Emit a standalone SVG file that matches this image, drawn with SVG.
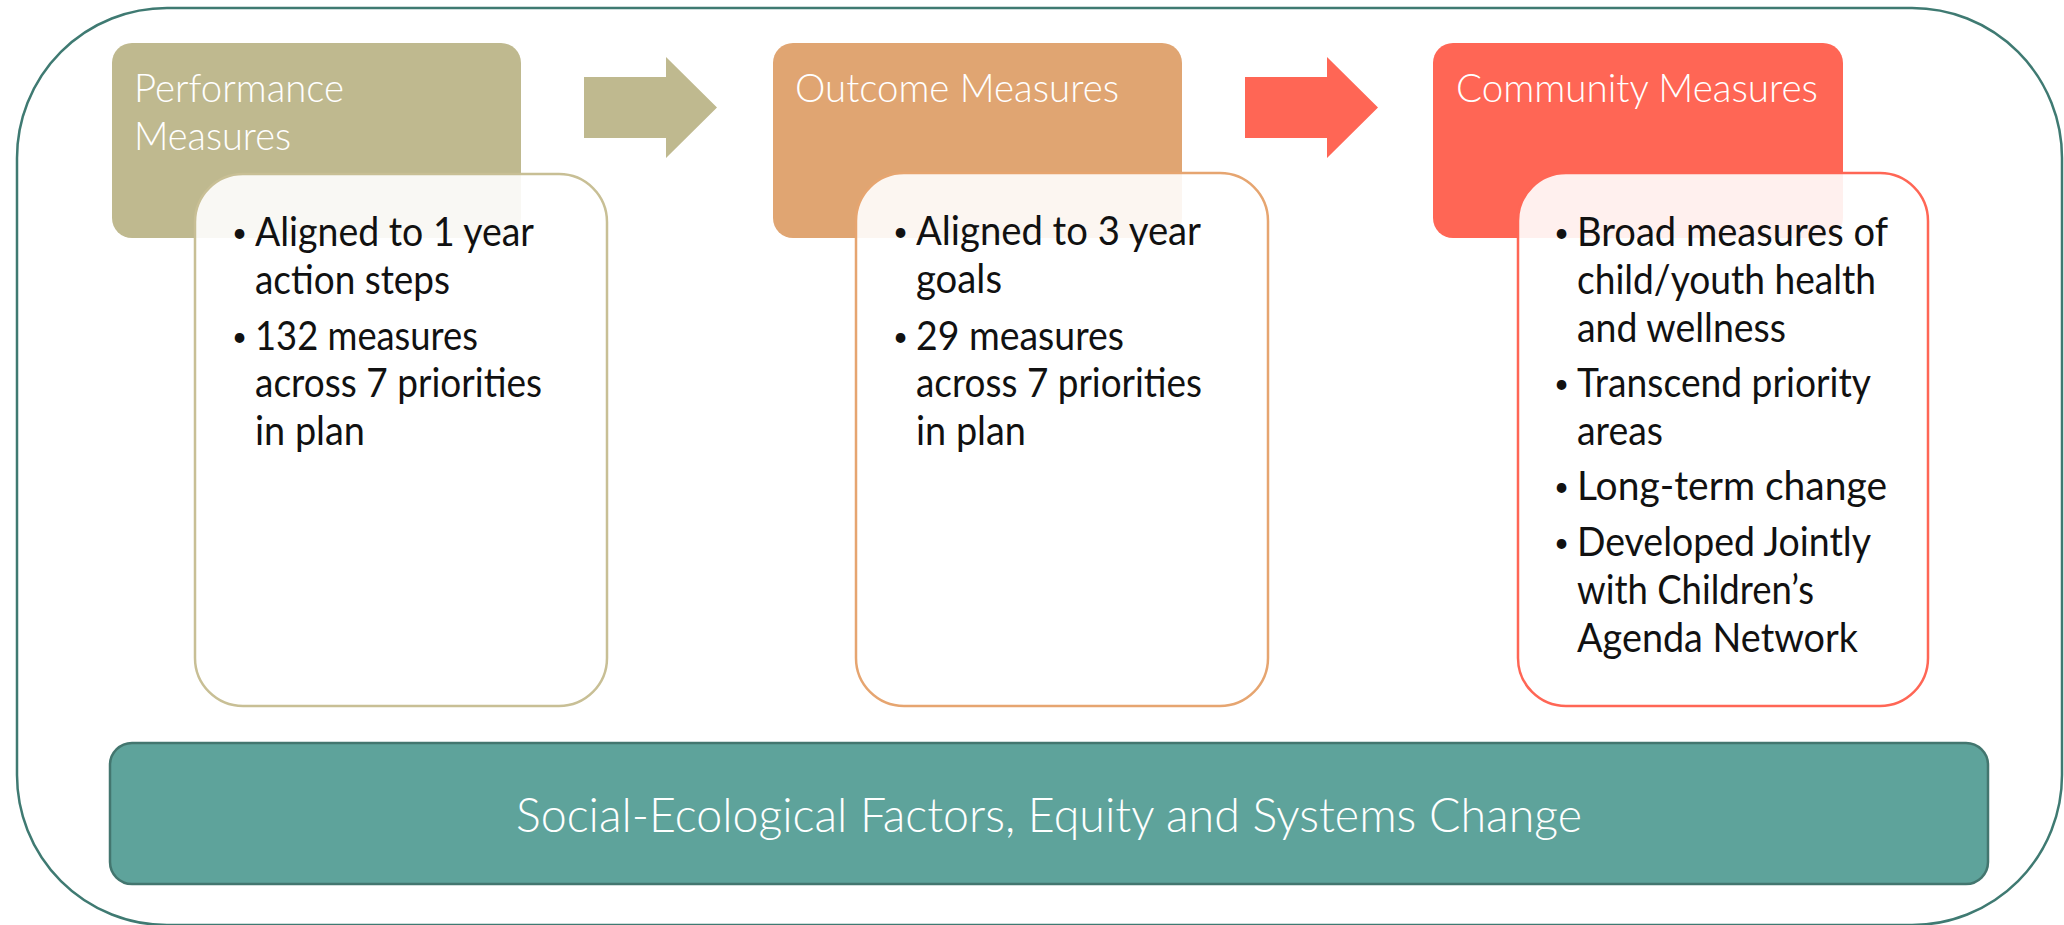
<svg xmlns="http://www.w3.org/2000/svg" width="2064" height="925" viewBox="0 0 2064 925">
<style>
.hdr{font-family:Lato,"Open Sans","Liberation Sans",sans-serif;font-weight:300;font-size:40px;fill:#ffffff}
.bul{font-family:Lato,"Open Sans","Liberation Sans",sans-serif;font-weight:400;font-size:40px;fill:#111111}
.dot{font-family:Lato,"Open Sans","Liberation Sans",sans-serif;font-weight:400;font-size:26px;fill:#111111}
.band{font-family:Lato,"Open Sans","Liberation Sans",sans-serif;font-weight:300;font-size:48px;fill:#ffffff}
.body{fill:#ffffff;fill-opacity:0.9;stroke-width:2.5}
</style>
<rect x="0" y="0" width="2064" height="925" fill="#ffffff"/>
<g id="frame">
<rect x="17" y="8" width="2045" height="917" rx="150" ry="150" fill="none" stroke="#3f7a72" stroke-width="2.5"/>
</g>
<g id="connectors">
<polygon points="584,77 666,77 666,57 717,107.5 666,158 666,138 584,138" fill="#bfb98f"/>
<polygon points="1245,77 1327,77 1327,57 1378,107.5 1327,158 1327,138 1245,138" fill="#ff6655"/>
</g>
<g id="performance">
<rect x="112" y="43" width="409" height="195" rx="20" fill="#bfb98f"/>
<text class="hdr" x="134" y="102" textLength="210" lengthAdjust="spacingAndGlyphs">Performance</text>
<text class="hdr" x="134" y="150" textLength="157" lengthAdjust="spacingAndGlyphs">Measures</text>
<rect class="body" x="195" y="174" width="412" height="532" rx="48" stroke="#c8bf95"/>
<text class="dot" x="232" y="242">•</text>
<text class="bul" x="255" y="246" textLength="279" lengthAdjust="spacingAndGlyphs">Aligned to 1 year</text>
<text class="bul" x="255" y="294" textLength="195" lengthAdjust="spacingAndGlyphs">action steps</text>
<text class="dot" x="232" y="346">•</text>
<text class="bul" x="255" y="350" textLength="223" lengthAdjust="spacingAndGlyphs">132 measures</text>
<text class="bul" x="255" y="397" textLength="287" lengthAdjust="spacingAndGlyphs">across 7 priorities</text>
<text class="bul" x="255" y="445" textLength="110" lengthAdjust="spacingAndGlyphs">in plan</text>
</g>
<g id="outcome">
<rect x="773" y="43" width="409" height="195" rx="20" fill="#e0a572"/>
<text class="hdr" x="795" y="102" textLength="324" lengthAdjust="spacingAndGlyphs">Outcome Measures</text>
<rect class="body" x="856" y="173" width="412" height="533" rx="48" stroke="#e6a570"/>
<text class="dot" x="893" y="241">•</text>
<text class="bul" x="916" y="245" textLength="285" lengthAdjust="spacingAndGlyphs">Aligned to 3 year</text>
<text class="bul" x="916" y="293" textLength="86" lengthAdjust="spacingAndGlyphs">goals</text>
<text class="dot" x="893" y="346">•</text>
<text class="bul" x="916" y="350" textLength="208" lengthAdjust="spacingAndGlyphs">29 measures</text>
<text class="bul" x="916" y="397" textLength="286" lengthAdjust="spacingAndGlyphs">across 7 priorities</text>
<text class="bul" x="916" y="445" textLength="110" lengthAdjust="spacingAndGlyphs">in plan</text>
</g>
<g id="community">
<rect x="1433" y="43" width="410" height="195" rx="20" fill="#ff6655"/>
<text class="hdr" x="1456" y="102" textLength="362" lengthAdjust="spacingAndGlyphs">Community Measures</text>
<rect class="body" x="1518" y="173" width="410" height="533" rx="48" stroke="#ff6655"/>
<text class="dot" x="1554" y="242">•</text>
<text class="bul" x="1577" y="246" textLength="311" lengthAdjust="spacingAndGlyphs">Broad measures of</text>
<text class="bul" x="1577" y="294" textLength="299" lengthAdjust="spacingAndGlyphs">child/youth health</text>
<text class="bul" x="1577" y="342" textLength="209" lengthAdjust="spacingAndGlyphs">and wellness</text>
<text class="dot" x="1554" y="393">•</text>
<text class="bul" x="1577" y="397" textLength="294" lengthAdjust="spacingAndGlyphs">Transcend priority</text>
<text class="bul" x="1577" y="445" textLength="86" lengthAdjust="spacingAndGlyphs">areas</text>
<text class="dot" x="1554" y="496">•</text>
<text class="bul" x="1577" y="500" textLength="310" lengthAdjust="spacingAndGlyphs">Long-term change</text>
<text class="dot" x="1554" y="552">•</text>
<text class="bul" x="1577" y="556" textLength="294" lengthAdjust="spacingAndGlyphs">Developed Jointly</text>
<text class="bul" x="1577" y="604" textLength="237" lengthAdjust="spacingAndGlyphs">with Children’s</text>
<text class="bul" x="1577" y="652" textLength="281" lengthAdjust="spacingAndGlyphs">Agenda Network</text>
</g>
<g id="foundation">
<rect x="110" y="743" width="1878" height="141" rx="22" fill="#5ea39b" stroke="#43766f" stroke-width="2.5"/>
<text class="band" x="1049" y="832" text-anchor="middle" textLength="1066" lengthAdjust="spacingAndGlyphs">Social-Ecological Factors, Equity and Systems Change</text>
</g>
</svg>
